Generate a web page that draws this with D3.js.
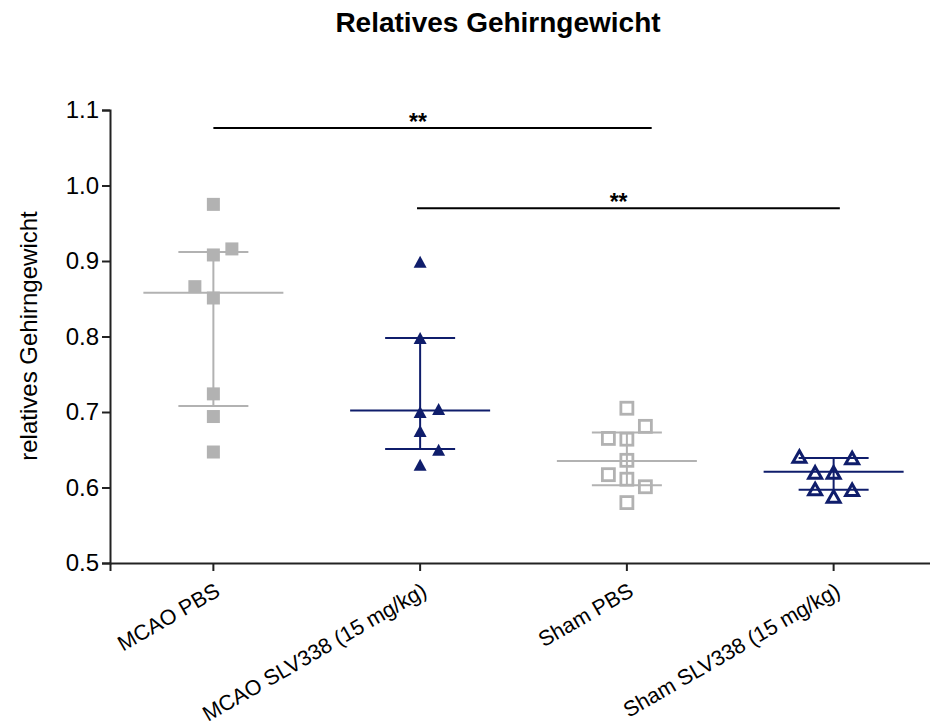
<!DOCTYPE html>
<html>
<head>
<meta charset="utf-8">
<script src="https://cdn.jsdelivr.net/npm/d3@7"></script>
<style>
  html, body { margin: 0; padding: 0; background: #fff; }
  svg { display: block; font-family: "Liberation Sans", Arial, sans-serif; }
</style>
</head>
<body>
<svg id="chart" width="930" height="725"></svg>
<script>
// ---------- data ----------
const categories = ["MCAO PBS", "MCAO SLV338 (15 mg/kg)", "Sham PBS", "Sham SLV338 (15 mg/kg)"];

const mcaoPbsValues = [0.975, 0.916, 0.908, 0.866, 0.851, 0.724, 0.694, 0.647];
const mcaoPbsSlots  = [0, 1, 0, -1, 0, 0, 0, 0];

const mcaoSlvValues = [0.899, 0.798, 0.704, 0.700, 0.675, 0.650, 0.630];
const mcaoSlvSlots  = [0, 0, 1, 0, 0, 1, 0];

const shamPbsValues = [0.705, 0.681, 0.665, 0.664, 0.636, 0.617, 0.611, 0.601, 0.580];
const shamPbsSlots  = [0, 1, -1, 0, 0, -1, 0, 1, 0];

const shamSlvValues = [0.641, 0.639, 0.620, 0.620, 0.598, 0.597, 0.588];
const shamSlvSlots  = [-1.85, 1, -1, 0, -1, 1, 0];

const medians = [0.858, 0.702, 0.635, 0.621];
const lowerQuartiles = [0.708, 0.651, 0.603, 0.597];
const upperQuartiles = [0.912, 0.798, 0.673, 0.639];

const yTicks = [0.5, 0.6, 0.7, 0.8, 0.9, 1.0, 1.1];

const sigFrom  = [0, 0.985];
const sigTo    = [2.12, 3.03];
const sigLevel = [1.076, 0.970];
const sigStarAt = [0.99, 1.96];
const sigLabels = ["**", "**"];

const title = "Relatives Gehirngewicht";
const yLabel = "relatives Gehirngewicht";

// ---------- styling ----------
const GRAY = "#b2b2b2";
const NAVY = "#0f1d6b";
const FONT = "Liberation Sans, Arial, sans-serif";

const groups = [
  { values: mcaoPbsValues, slots: mcaoPbsSlots, shape: "square", filled: true, color: GRAY },
  { values: mcaoSlvValues, slots: mcaoSlvSlots, shape: "triangle", filled: true, color: NAVY },
  { values: shamPbsValues, slots: shamPbsSlots, shape: "square", filled: false, color: GRAY },
  { values: shamSlvValues, slots: shamSlvSlots, shape: "triangle", filled: false, color: NAVY }
];

const svg = d3.select("#chart");

const plotLeft = 110, plotRight = 937, plotTop = 110, plotBottom = 563;

const x = d3.scaleBand().domain(categories).range([plotLeft, plotRight]).padding(0);
const y = d3.scaleLinear().domain([0.5, 1.1]).range([plotBottom, plotTop]);
const xi = d3.scaleLinear().domain([0, categories.length - 1])
  .range([x(categories[0]) + x.bandwidth() / 2, x(categories[categories.length - 1]) + x.bandwidth() / 2]);
const slotScale = d3.scaleLinear().domain([0, 1]).range([0, 18.5]);

// ---------- title ----------
svg.append("text")
  .attr("x", 498).attr("y", 32)
  .attr("text-anchor", "middle")
  .attr("font-size", 28).attr("font-weight", "bold")
  .attr("fill", "#000")
  .text(title);

// ---------- y axis ----------
const yAxis = svg.append("g")
  .attr("transform", `translate(${plotLeft},0)`)
  .call(d3.axisLeft(y).tickValues(yTicks).tickFormat(d3.format(".1f")).tickSizeOuter(0).tickSize(8).tickPadding(3));
yAxis.select(".domain").attr("stroke", "#222").attr("stroke-width", 2);
yAxis.selectAll(".tick line").attr("stroke", "#222").attr("stroke-width", 2);
yAxis.selectAll(".tick text").attr("font-size", 24).attr("fill", "#000")
  .attr("font-family", FONT);

svg.append("text")
  .attr("transform", `translate(37,336) rotate(-90)`)
  .attr("text-anchor", "middle")
  .attr("font-size", 24).attr("fill", "#000")
  .attr("font-family", FONT)
  .text(yLabel);

// ---------- x axis ----------
const xAxis = svg.append("g")
  .attr("transform", `translate(0,${plotBottom})`)
  .call(d3.axisBottom(x).tickSizeOuter(0).tickSize(8));
xAxis.select(".domain").attr("stroke", "#222").attr("stroke-width", 2);
xAxis.selectAll(".tick line").attr("stroke", "#222").attr("stroke-width", 2);
xAxis.selectAll(".tick text")
  .attr("font-size", 21.5).attr("fill", "#000")
  .attr("font-family", FONT)
  .attr("text-anchor", "end")
  .attr("dy", null)
  .attr("y", 0)
  .attr("transform", "translate(8,32) rotate(-30)");

// ---------- median & IQR ----------
const summary = svg.append("g");
categories.forEach((c, i) => {
  const cx = xi(i);
  const col = groups[i].color;
  summary.append("line")
    .attr("x1", cx).attr("x2", cx)
    .attr("y1", y(lowerQuartiles[i])).attr("y2", y(upperQuartiles[i]))
    .attr("stroke", col).attr("stroke-width", 2);
  summary.append("line")
    .attr("x1", cx - 70).attr("x2", cx + 70)
    .attr("y1", y(medians[i])).attr("y2", y(medians[i]))
    .attr("stroke", col).attr("stroke-width", 2);
  [lowerQuartiles[i], upperQuartiles[i]].forEach(q => {
    summary.append("line")
      .attr("x1", cx - 35).attr("x2", cx + 35)
      .attr("y1", y(q)).attr("y2", y(q))
      .attr("stroke", col).attr("stroke-width", 2);
  });
});

// ---------- points ----------
const pts = svg.append("g");
groups.forEach((g, i) => {
  const cx = xi(i);
  g.values.forEach((v, j) => {
    const px = cx + slotScale(g.slots[j]);
    const py = y(v);
    if (g.shape === "square") {
      if (g.filled) {
        pts.append("rect")
          .attr("x", px - 6.5).attr("y", py - 6.5)
          .attr("width", 13).attr("height", 13)
          .attr("fill", g.color);
      } else {
        pts.append("rect")
          .attr("x", px - 6).attr("y", py - 6)
          .attr("width", 12).attr("height", 12)
          .attr("fill", "none").attr("stroke", g.color).attr("stroke-width", 2.8);
      }
    } else {
      if (g.filled) {
        const w = 13, h = 12;
        pts.append("path")
          .attr("d", `M${px},${py - h / 2} L${px + w / 2},${py + h / 2} L${px - w / 2},${py + h / 2} Z`)
          .attr("fill", g.color);
      } else {
        const w = 13, h = 11.5;
        pts.append("path")
          .attr("d", `M${px},${py - h / 2} L${px + w / 2},${py + h / 2} L${px - w / 2},${py + h / 2} Z`)
          .attr("fill", "none").attr("stroke", g.color).attr("stroke-width", 3)
          .attr("stroke-linejoin", "miter");
      }
    }
  });
});

// ---------- significance bars ----------
const sig = svg.append("g");
sigFrom.forEach((f, k) => {
  sig.append("line")
    .attr("x1", xi(f)).attr("x2", xi(sigTo[k]))
    .attr("y1", y(sigLevel[k])).attr("y2", y(sigLevel[k]))
    .attr("stroke", "#000").attr("stroke-width", 2);
  sig.append("text")
    .attr("x", xi(sigStarAt[k])).attr("y", y(sigLevel[k]) + 1.5)
    .attr("text-anchor", "middle")
    .attr("font-size", 23).attr("font-weight", "bold")
    .attr("fill", "#000")
    .attr("font-family", FONT)
    .text(sigLabels[k]);
});
</script>
</body>
</html>
